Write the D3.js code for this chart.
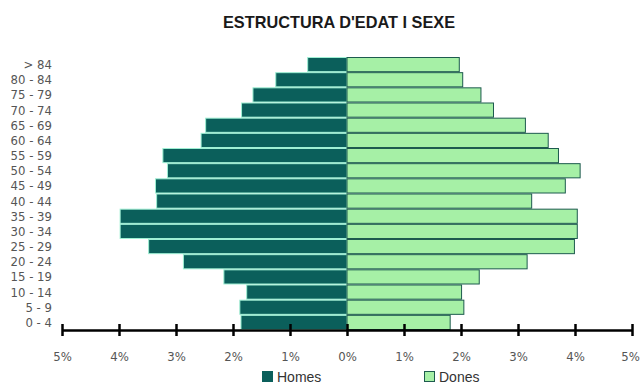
<!DOCTYPE html>
<meta charset="utf-8">
<head>
    <meta charset="utf-8">
    <title>Estructura d'edat i sexe</title>
    <script src="https://d3js.org/d3.v7.min.js"></script>
</head>
<style type="text/css">
    body { margin: 0; background: #ffffff; }
    .narrow { font-family: "Liberation Sans Narrow", "Arial Narrow", "DejaVu Sans Condensed", sans-serif; }
    .title { font-family: "Liberation Sans", Arial, sans-serif; font-weight: bold; font-size: 17px; fill: #1a1a1a; }
    .ylab { font-size: 13px; fill: #555; }
    .xlab { font-size: 13px; fill: #555; }
    .leg { font-family: "Liberation Sans", Arial, sans-serif; font-size: 14px; fill: #333; }
</style>
<body>
<div id="chart"></div>
<script>
// age groups, top to bottom
const groups = ["> 84", "80 - 84", "75 - 79", "70 - 74", "65 - 69", "60 - 64", "55 - 59", "50 - 54",
    "45 - 49", "40 - 44", "35 - 39", "30 - 34", "25 - 29", "20 - 24", "15 - 19", "10 - 14", "5 - 9", "0 - 4"];
// % of population
const homes = [0.69, 1.25, 1.65, 1.85, 2.48, 2.56, 3.23, 3.15, 3.36, 3.34, 3.98, 3.98, 3.48, 2.87, 2.16, 1.76, 1.88, 1.86];
const dones = [1.97, 2.03, 2.35, 2.57, 3.13, 3.53, 3.71, 4.09, 3.83, 3.24, 4.04, 4.04, 3.99, 3.16, 2.32, 2.01, 2.05, 1.81];
const ticks = [-5, -4, -3, -2, -1, 0, 1, 2, 3, 4, 5];

const W = 640, H = 390;
const svg = d3.select("#chart").append("svg")
    .attr("width", W).attr("height", H);

const x = d3.scaleLinear().domain([-5, 5]).range([62, 632]);
const y = d3.scaleBand().domain(groups).range([57, 330]).padding(0);

// title
svg.append("text").attr("class", "title")
    .attr("x", 339).attr("y", 28)
    .attr("text-anchor", "middle")
    .attr("textLength", 232).attr("lengthAdjust", "spacingAndGlyphs")
    .text("ESTRUCTURA D'EDAT I SEXE");

// male bars (left)
svg.append("g").selectAll("rect")
    .data(homes)
    .join("rect")
    .attr("x", d => x(-d))
    .attr("y", (d, i) => y(groups[i]) + 0.5)
    .attr("width", d => x(0) - x(-d))
    .attr("height", y.bandwidth() - 1)
    .attr("fill", "#0b5f5b")
    .attr("stroke", "#9ff0d4")
    .attr("stroke-width", 1);

// female bars (right)
svg.append("g").selectAll("rect")
    .data(dones)
    .join("rect")
    .attr("x", x(0))
    .attr("y", (d, i) => y(groups[i]) + 0.5)
    .attr("width", d => x(d) - x(0))
    .attr("height", y.bandwidth() - 1)
    .attr("fill", "#a6f0a6")
    .attr("stroke", "#1d5a4e")
    .attr("stroke-width", 1);

// age labels
svg.append("g").selectAll("text")
    .data(groups)
    .join("text")
    .attr("class", "narrow ylab")
    .attr("x", 52)
    .attr("y", d => y(d) + y.bandwidth() / 2 + 4.5)
    .attr("text-anchor", "end")
    .text(d => d);

// x axis
const axis = svg.append("g")
    .attr("transform", "translate(0,330)")
    .call(d3.axisBottom(x).tickValues(ticks).tickSize(6).tickSizeOuter(0)
        .tickFormat(d => Math.abs(d) + "%"));
axis.select(".domain").attr("stroke", "#000").attr("stroke-width", 2.5);
axis.selectAll(".tick line").attr("stroke", "#000").attr("stroke-width", 2.5).attr("y1", -6);
axis.selectAll(".tick text")
    .attr("class", "narrow xlab")
    .attr("y", 22).attr("dy", "0.71em")
    .attr("dx", d => d === 5 ? -2 : 0)
    .attr("fill", "#555");
axis.attr("font-family", null).attr("font-size", null);

// legend
const legend = [["Homes", "#0b5f5b", "#0b5f5b"], ["Dones", "#a6f0a6", "#1d5a4e"]];
const lx = [262, 424];
const lg = svg.append("g").selectAll("g").data(legend).join("g")
    .attr("transform", (d, i) => `translate(${lx[i]},371)`);
lg.append("rect").attr("x", 0.5).attr("y", 0.5).attr("width", 10).attr("height", 10)
    .attr("fill", d => d[1]).attr("stroke", d => d[2]);
lg.append("text").attr("class", "leg").attr("x", 15).attr("y", 11).text(d => d[0]);
</script>
</body>
</html>
